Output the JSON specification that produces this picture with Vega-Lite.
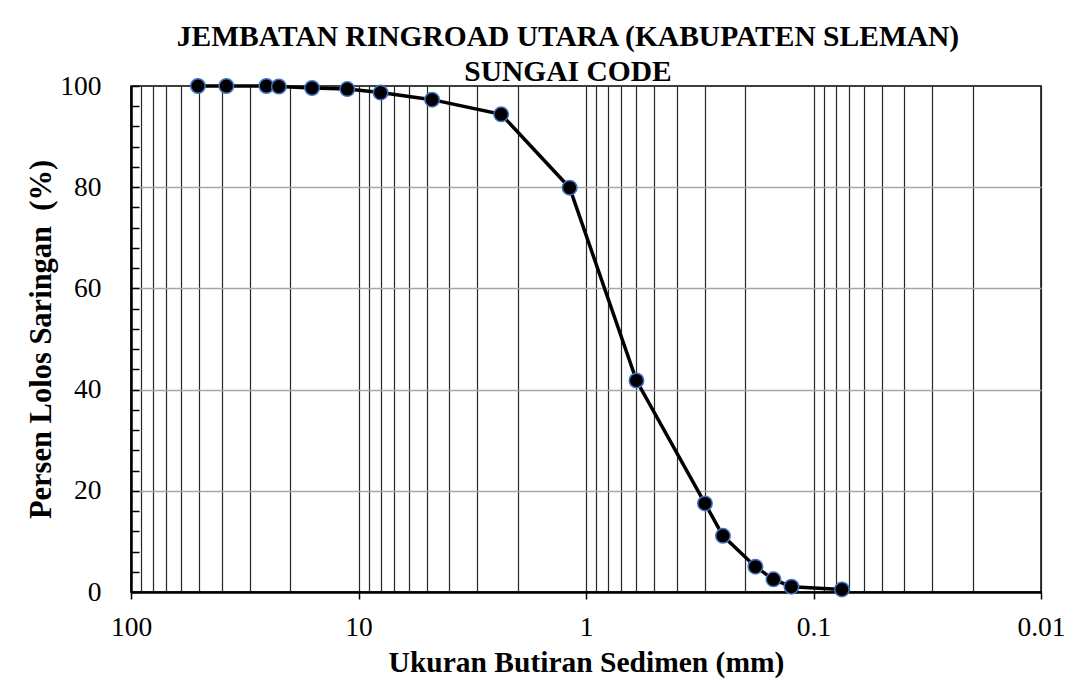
{
  "$schema": "https://vega.github.io/schema/vega-lite/v6.json",
  "width": 910,
  "height": 506,
  "autosize": "none",
  "padding": {"left": 131, "top": 86, "right": 34, "bottom": 88},
  "background": "white",
  "config": {
    "font": "Liberation Serif",
    "view": {"stroke": "black", "strokeWidth": 1.5}
  },
  "title": {
    "text": ["JEMBATAN RINGROAD UTARA (KABUPATEN SLEMAN)", "SUNGAI CODE"],
    "font": "Liberation Serif",
    "fontSize": 29.5,
    "fontWeight": "bold",
    "lineHeight": 35,
    "color": "black",
    "anchor": "middle",
    "dx": -18,
    "offset": -15
  },
  "data": {
    "values": [
      {"size": 50.8, "pass": 100},
      {"size": 38.1, "pass": 100},
      {"size": 25.4, "pass": 100},
      {"size": 22.4, "pass": 99.9},
      {"size": 16, "pass": 99.6},
      {"size": 11.2, "pass": 99.4},
      {"size": 8.0, "pass": 98.7},
      {"size": 4.75, "pass": 97.3},
      {"size": 2.36, "pass": 94.4},
      {"size": 1.18, "pass": 79.9},
      {"size": 0.6, "pass": 41.8},
      {"size": 0.3, "pass": 17.5},
      {"size": 0.25, "pass": 11.1},
      {"size": 0.18, "pass": 5.0},
      {"size": 0.15, "pass": 2.5},
      {"size": 0.125, "pass": 1.05},
      {"size": 0.075, "pass": 0.5}
    ]
  },
  "encoding": {
    "x": {
      "field": "size",
      "type": "quantitative",
      "scale": {"type": "log", "domain": [0.01, 100], "reverse": true, "nice": false},
      "axis": {
        "title": "Ukuran Butiran Sedimen (mm)",
        "titleFont": "Liberation Serif",
        "titleFontSize": 29.5,
        "titleFontWeight": "bold",
        "titleColor": "black",
        "titlePadding": 8,
        "values": [100, 90, 80, 70, 60, 50, 40, 30, 20, 10, 9, 8, 7, 6, 5, 4, 3, 2, 1, 0.9, 0.8, 0.7, 0.6, 0.5, 0.4, 0.3, 0.2, 0.1, 0.09, 0.08, 0.07, 0.06, 0.05, 0.04, 0.03, 0.02, 0.01],
        "labelExpr": "(datum.value == 100 || datum.value == 10 || datum.value == 1 || datum.value == 0.1 || datum.value == 0.01) ? format(datum.value, '~g') : ''",
        "labelFont": "Liberation Serif",
        "labelFontSize": 27.5,
        "labelColor": "black",
        "labelPadding": 14,
        "labelOverlap": false,
        "labelFlush": false,
        "grid": true,
        "gridColor": "#262626",
        "gridWidth": 1.2,
        "domainColor": "black",
        "domainWidth": 2.5,
        "ticks": true,
        "tickSize": 7,
        "tickWidth": 1.5,
        "tickColor": {"condition": {"test": "datum.value == 100 || datum.value == 10 || datum.value == 1 || datum.value == 0.1 || datum.value == 0.01", "value": "black"}, "value": "transparent"}
      }
    },
    "y": {
      "field": "pass",
      "type": "quantitative",
      "scale": {"domain": [0, 100], "nice": false},
      "axis": {
        "title": "Persen Lolos Saringan\u00a0 (%)",
        "titleFont": "Liberation Serif",
        "titleFontSize": 30.5,
        "titleFontWeight": "bold",
        "titleColor": "black",
        "titlePadding": 3,
        "values": [0, 4, 8, 12, 16, 20, 24, 28, 32, 36, 40, 44, 48, 52, 56, 60, 64, 68, 72, 76, 80, 84, 88, 92, 96, 100],
        "labelExpr": "datum.value % 20 == 0 ? format(datum.value, 'd') : ''",
        "labelFont": "Liberation Serif",
        "labelFontSize": 27.5,
        "labelColor": "black",
        "labelPadding": 38,
        "labelOverlap": false,
        "labelFlush": false,
        "grid": true,
        "gridColor": {"condition": {"test": "datum.value % 20 == 0 && datum.value > 0 && datum.value < 100", "value": "#a6a6a6"}, "value": "transparent"},
        "gridWidth": 1.5,
        "domainColor": "black",
        "domainWidth": 2.5,
        "tickSize": -8,
        "tickWidth": 1.5,
        "tickColor": "black"
      }
    }
  },
  "layer": [
    {
      "mark": {"type": "line", "color": "black", "strokeWidth": 3.5}
    },
    {
      "mark": {"type": "point", "filled": true, "fill": "black", "stroke": "#4472C4", "strokeWidth": 1.5, "size": 210, "opacity": 1}
    }
  ]
}
